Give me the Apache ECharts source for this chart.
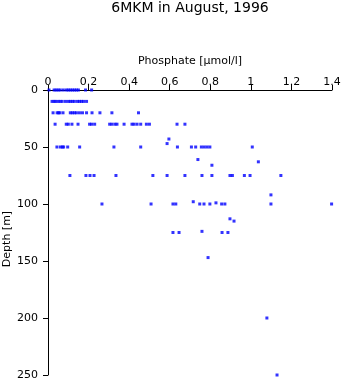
<!DOCTYPE html>
<html><head><meta charset="utf-8">
<script src="https://cdn.jsdelivr.net/npm/echarts@6/dist/echarts.min.js"></script>
<style>html,body{margin:0;padding:0;background:#fff}#c{width:343px;height:384px}</style>
</head><body><div id="c"></div>
<script>
// Phosphate values grouped by standard depth (m)
var standardDepths = [0, 10, 20, 30, 50, 75, 100, 125];
var phosAt0   = [0.005, 0.03, 0.04, 0.05, 0.06, 0.075, 0.09, 0.10, 0.11, 0.12, 0.13, 0.14, 0.15, 0.185, 0.215];
var phosAt10  = [0.02, 0.03, 0.038, 0.05, 0.06, 0.07, 0.086, 0.10, 0.11, 0.12, 0.13, 0.145, 0.155, 0.165, 0.175, 0.19];
var phosAt20  = [0.025, 0.045, 0.052, 0.058, 0.074, 0.11, 0.12, 0.13, 0.14, 0.155, 0.17, 0.19, 0.217, 0.256, 0.315, 0.446];
var phosAt30  = [0.035, 0.09, 0.10, 0.118, 0.148, 0.205, 0.215, 0.23, 0.304, 0.315, 0.33, 0.34, 0.375, 0.414, 0.424, 0.439, 0.457, 0.485, 0.50, 0.636, 0.675];
var phosAt50  = [0.044, 0.061, 0.071, 0.077, 0.097, 0.156, 0.325, 0.457, 0.638, 0.707, 0.728, 0.756, 0.77, 0.784, 0.798, 1.007];
var phosAt75  = [0.108, 0.187, 0.207, 0.227, 0.335, 0.517, 0.587, 0.675, 0.759, 0.808, 0.897, 0.909, 0.968, 0.996, 1.148];
var phosAt100 = [0.266, 0.508, 0.616, 0.63, 0.748, 0.769, 0.798, 0.856, 0.872, 1.099, 1.398];
var phosAt125 = [0.616, 0.646, 0.858, 0.887];
// Samples at other depths
var otherPhos   = [0.596, 0.587, 0.739, 1.037, 0.808, 1.099, 0.716, 0.828, 0.897, 0.917, 0.759, 0.789, 1.079, 1.129];
var otherDepths = [43, 47, 61, 63, 66, 92, 98, 99, 113, 115, 124, 147, 200, 250];
var xTicks = [0, 0.2, 0.4, 0.6, 0.8, 1, 1.2, 1.4];
var yTicks = [0, 50, 100, 150, 200, 250];

var groups = [phosAt0, phosAt10, phosAt20, phosAt30, phosAt50, phosAt75, phosAt100, phosAt125];
var data = [];
groups.forEach(function (g, i) { g.forEach(function (p) { data.push([p, standardDepths[i]]); }); });
otherPhos.forEach(function (p, i) { data.push([p, otherDepths[i]]); });

var font = 'DejaVu Sans';
var chart = echarts.init(document.getElementById('c'), null, {renderer: 'canvas'});
chart.setOption({
  animation: false,
  backgroundColor: '#fff',
  title: {
    text: '6MKM in August, 1996', left: 190, top: 1, padding: 0, textAlign: 'center',
    textStyle: {fontFamily: font, fontSize: 14, fontWeight: 'normal', color: '#000'}
  },
  graphic: [{
    type: 'text', x: 7, y: 239, rotation: Math.PI / 2,
    style: {text: 'Depth [m]', fontFamily: font, fontSize: 11, fill: '#000', align: 'center', verticalAlign: 'middle'}
  }],
  grid: {left: 48, right: 11, top: 90, bottom: 9, containLabel: false, outerBoundsMode: 'none'},
  xAxis: {
    type: 'value', position: 'top', min: 0, max: 1.4, interval: 0.2,
    name: 'Phosphate [\u00b5mol/l]', nameLocation: 'middle', nameGap: 23,
    nameTextStyle: {fontFamily: font, fontSize: 11, color: '#000'},
    axisLine: {show: true, onZero: false, lineStyle: {color: '#000', width: 1}},
    axisTick: {show: true, length: 5, lineStyle: {color: '#000'}},
    axisLabel: {fontFamily: font, fontSize: 11, color: '#000', margin: 2, showMinLabel: true, showMaxLabel: true,
      formatter: function (v) { return xTicks.indexOf(+v.toFixed(1)) >= 0 ? String(+v.toFixed(1)) : ''; }},
    splitLine: {show: false}
  },
  yAxis: {
    type: 'value', inverse: true, min: 0, max: 250, interval: 50,
    axisLine: {show: true, onZero: false, lineStyle: {color: '#000', width: 1}},
    axisTick: {show: true, length: 5, lineStyle: {color: '#000'}},
    axisLabel: {fontFamily: font, fontSize: 11, color: '#000', margin: 10, showMinLabel: true, showMaxLabel: true,
      formatter: function (v) { return yTicks.indexOf(v) >= 0 ? String(v) : ''; }},
    splitLine: {show: false}
  },
  series: [{
    type: 'scatter', data: data, symbol: 'rect', symbolSize: 3,
    itemStyle: {color: '#0000ff'}, clip: false
  }]
});
</script></body></html>
